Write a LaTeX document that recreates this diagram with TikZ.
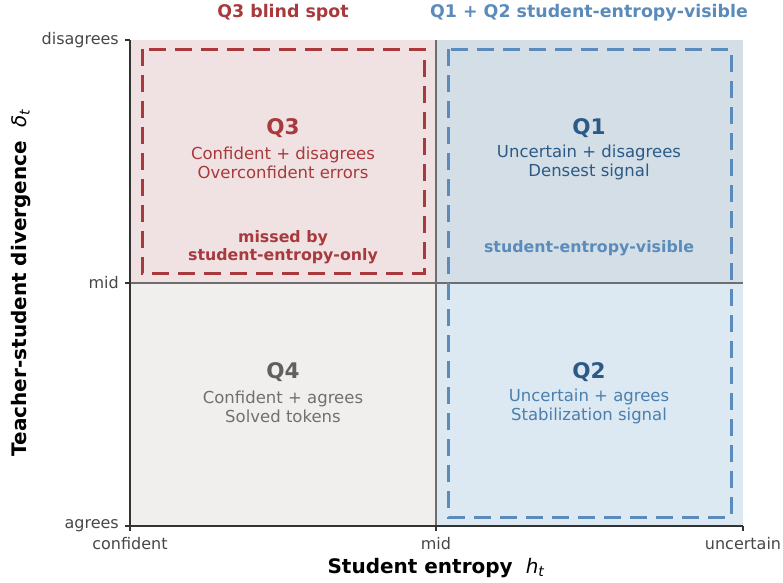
\documentclass[tikz,border=0pt]{standalone}
\usepackage{fontspec}
\setmainfont{DejaVu Sans}
\usetikzlibrary{positioning}
\definecolor{qthreefill}{HTML}{F0E2E2}
\definecolor{qonefill}{HTML}{D4DEE6}
\definecolor{qtwofill}{HTML}{DCE8F2}
\definecolor{qfourfill}{HTML}{F0EFEE}
\definecolor{redline}{HTML}{A8393D}
\definecolor{blueline}{HTML}{5B8BBB}
\definecolor{darkblue}{HTML}{2B5A87}
\definecolor{midblue}{HTML}{4A7FAE}
\definecolor{greytext}{HTML}{606060}
\definecolor{spine}{HTML}{333333}
\definecolor{midline}{HTML}{6E6E6E}
\tikzset{
  quadtitle/.style={font=\bfseries\fontsize{21.5}{24}\selectfont, inner sep=0pt},
  quadtext/.style={font=\fontsize{16.5}{19}\selectfont, align=center, inner sep=0pt},
  quadnote/.style={font=\bfseries\fontsize{15.8}{18}\selectfont, align=center, inner sep=0pt},
  toptitle/.style={font=\bfseries\fontsize{17.4}{20}\selectfont, inner sep=0pt},
  ticklabel/.style={font=\fontsize{16}{19}\selectfont, text=spine!90, inner sep=0pt},
  axislabel/.style={font=\bfseries\fontsize{20}{24}\selectfont, inner sep=0pt},
  dashbox/.style={line width=3pt, dash pattern=on 17pt off 9pt},
}
\begin{document}
\begin{tikzpicture}[x=1pt, y=-1pt]
  \useasboundingbox (0,0) rectangle (783,582);

  % quadrant backgrounds
  \fill[qthreefill] (130,40) rectangle (436,283);
  \fill[qonefill] (436,40) rectangle (743,283);
  \fill[qfourfill] (130,283) rectangle (436,526);
  \fill[qtwofill] (436,283) rectangle (743,526);

  % mid lines
  \draw[midline, line width=1.5pt] (436,40) -- (436,526);
  \draw[midline, line width=1.5pt] (130,283) -- (743,283);

  % dashed regions
  \draw[dashbox, redline] (142,49) rectangle (424,273);
  \draw[dashbox, blueline] (448,49) rectangle (731,517);

  % spines and ticks
  \draw[spine, line width=1.3pt] (130,40) -- (130,526) -- (743,526);
  \foreach \y in {40,283,526}
    \draw[spine, line width=1.1pt] (125,\y) -- (130,\y);
  \foreach \x in {130,436,743}
    \draw[spine, line width=1.1pt] (\x,526) -- (\x,531);

  % tick labels
  \node[ticklabel, anchor=east] (ydis) at (119,40) {disagrees};
  \node[ticklabel, anchor=east] (ymid) at (119,283) {mid};
  \node[ticklabel, anchor=east] (yagr) at (119,526) {agrees};
  \node[ticklabel, anchor=north] (xcon) at (130,537) {confident};
  \node[ticklabel, anchor=north] (xmid) at (436,537) {mid};
  \node[ticklabel, anchor=north] (xunc) at (743,537) {uncertain};

  % axis labels
  \node[axislabel] (xlab) at (436,568) {Student entropy\hspace{13pt}{\mdseries\itshape h\textsubscript{t}}};
  \node[axislabel, rotate=90] (ylab) at (21,283) {Teacher-student divergence\hspace{13pt}{\mdseries\itshape δ\textsubscript{t}}};

  % top titles
  \node[toptitle, text=redline] (q3top) at (283,13) {Q3 blind spot};
  \node[toptitle, text=blueline] (q1top) at (589,13) {Q1 + Q2 student-entropy-visible};

  % Q3
  \node[quadtitle, text=redline] (q3) at (283,128) {Q3};
  \node[quadtext, text=redline] (q3txt) at (283,162.5) {Confident + disagrees\\Overconfident errors};
  \node[quadnote, text=redline] (q3note) at (283,247) {missed by\\student-entropy-only};

  % Q1
  \node[quadtitle, text=darkblue] (q1) at (589,128) {Q1};
  \node[quadtext, text=darkblue] (q1txt) at (589,162.5) {Uncertain + disagrees\\Densest signal};
  \node[quadnote, text=blueline] (q1note) at (589,248) {student-entropy-visible};

  % Q4
  \node[quadtitle, text=greytext] (q4) at (283,372) {Q4};
  \node[quadtext, text=greytext!90] (q4txt) at (283,406.5) {Confident + agrees\\Solved tokens};

  % Q2
  \node[quadtitle, text=darkblue] (q2) at (589,372) {Q2};
  \node[quadtext, text=midblue] (q2txt) at (589,406.5) {Uncertain + agrees\\Stabilization signal};
\end{tikzpicture}
\end{document}
